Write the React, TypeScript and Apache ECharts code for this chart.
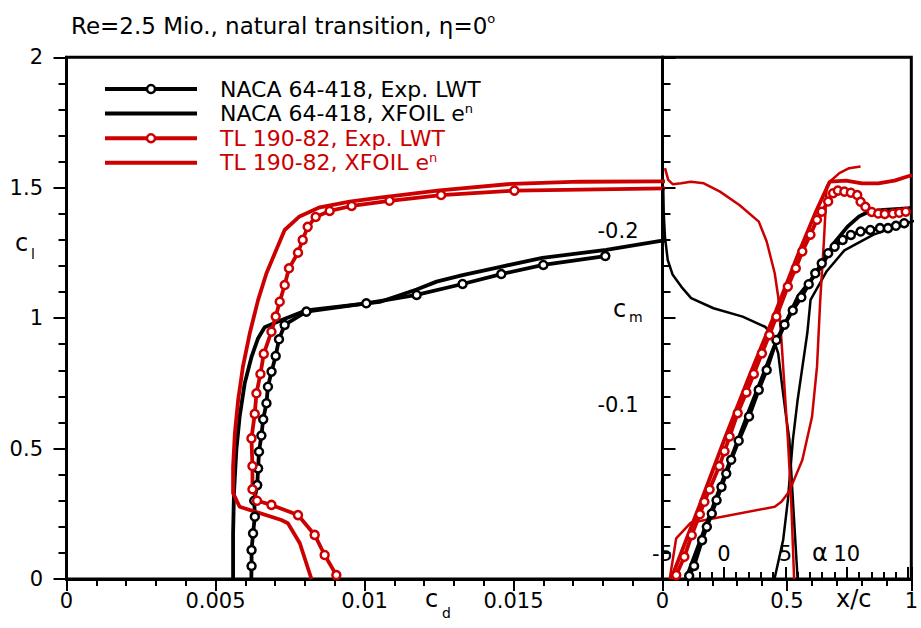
import React, { useEffect, useRef } from 'react';
import * as echarts from 'echarts';

const FONT = '"DejaVu Sans", Verdana, sans-serif';
const RED = '#cc0000';
const BLACK = '#000000';

// ---- tick labels ----
const cdTickLabels = [0, 0.005, 0.01, 0.015];
const clTickLabels = [0, 0.5, 1, 1.5, 2];
const xcTickLabels = [0, 0.5, 1];
const alphaTickLabels = [-5, 0, 5, 10];
const cmTickLabels = [-0.2, -0.1];

const titleText = 'Re=2.5 Mio., natural transition, η=0{sup|o}';
const legendNames = ['NACA 64-418, Exp. LWT', 'NACA 64-418, XFOIL e^n', 'TL 190-82, Exp. LWT', 'TL 190-82, XFOIL e^n'];
const legendColors = [BLACK, BLACK, RED, RED];
const legendMarkers = [true, false, true, false];

// ---- drag polars [cd, cl] ----
const nacaExpPolar = [
  [0.0062, -0.01], [0.00621, 0.05], [0.00621, 0.111], [0.00626, 0.175], [0.00632, 0.239], [0.0063, 0.3],
  [0.0064, 0.36], [0.00643, 0.424], [0.00646, 0.488], [0.00654, 0.55], [0.0066, 0.612], [0.00671, 0.674],
  [0.00676, 0.737], [0.00688, 0.795], [0.00702, 0.855], [0.00713, 0.919], [0.00732, 0.974], [0.00805, 1.025],
  [0.01006, 1.057], [0.01175, 1.089], [0.01329, 1.131], [0.01459, 1.169], [0.016, 1.204], [0.01808, 1.238],
];
const nacaXfoilPolar = [
  [0.00559, 0], [0.00559, 0.175], [0.00562, 0.33], [0.0057, 0.495], [0.00581, 0.622], [0.00598, 0.75],
  [0.00621, 0.852], [0.00643, 0.923], [0.00665, 0.965], [0.00716, 0.99], [0.00805, 1.03], [0.01051, 1.062],
  [0.01175, 1.11], [0.01242, 1.14], [0.01329, 1.165], [0.01453, 1.196], [0.01597, 1.231], [0.01811, 1.262],
  [0.01989, 1.295], [0.021, 1.31],
];
const tlExpPolar = [
  [0.009055, 0.015], [0.008663, 0.092], [0.008328, 0.169], [0.007768, 0.245], [0.006877, 0.284], [0.006394, 0.3],
  [0.00624, 0.344], [0.00624, 0.433], [0.006206, 0.539], [0.006317, 0.633], [0.006374, 0.712], [0.006508, 0.786],
  [0.006619, 0.863], [0.006877, 0.948], [0.00702, 1.006], [0.007155, 1.063], [0.007322, 1.127], [0.007466, 1.191],
  [0.007768, 1.251], [0.007926, 1.3], [0.008093, 1.35], [0.008361, 1.388], [0.00883, 1.411], [0.009568, 1.43],
  [0.01084, 1.45], [0.01257, 1.472], [0.01503, 1.489], [0.0215, 1.5],
];
const tlXfoilPolar = [
  [0.00822, 0], [0.00783, 0.137], [0.00743, 0.214], [0.00721, 0.226], [0.00581, 0.277], [0.00559, 0.329],
  [0.00559, 0.43], [0.00565, 0.559], [0.00576, 0.686], [0.00592, 0.814], [0.00615, 0.942], [0.00643, 1.07],
  [0.00671, 1.172], [0.00704, 1.262], [0.00732, 1.338], [0.00782, 1.39], [0.0085, 1.425], [0.0095, 1.447],
  [0.01051, 1.462], [0.01252, 1.49], [0.01496, 1.515], [0.01721, 1.523], [0.01989, 1.524], [0.021, 1.524],
];

// ---- lift curves [alpha, cl] ----
const nacaExpLift = [
  [-2.83, 0.012], [-2.43, 0.05], [-1.78, 0.149], [-1.39, 0.2], [-0.99, 0.251], [-0.6, 0.302], [-0.2, 0.353],
  [0.19, 0.404], [0.59, 0.457], [1.2, 0.53], [2.04, 0.623], [2.83, 0.725], [3.48, 0.801], [4.27, 0.916],
  [4.93, 0.975], [5.6, 1.03], [6.3, 1.08], [6.9, 1.13], [7.43, 1.172], [7.96, 1.21], [8.48, 1.249], [9.01, 1.274],
  [9.66, 1.3], [10.33, 1.319], [11.12, 1.332], [11.91, 1.338], [12.7, 1.345], [13.35, 1.345], [14.0, 1.354], [14.67, 1.364],
];
const nacaXfoilLift = [
  [-3.09, 0], [0, 0.39], [2, 0.64], [4, 0.88], [6, 1.08], [7.96, 1.2], [9, 1.29], [10.06, 1.351], [11, 1.39],
  [11.77, 1.408], [13, 1.415], [14.93, 1.421], [15.3, 1.423],
];
const tlExpLift = [
  [-3.88, 0.015], [-3.22, 0.085], [-2.62, 0.168], [-1.96, 0.248], [-1.59, 0.296], [-1.17, 0.343], [-0.38, 0.433],
  [0.05, 0.49], [0.46, 0.546], [1.12, 0.636], [1.83, 0.715], [2.43, 0.786], [3.09, 0.865], [3.7, 0.935], [4.27, 1.006],
  [5.2, 1.121], [5.85, 1.191], [6.38, 1.256], [7.04, 1.32], [7.57, 1.377], [7.96, 1.408], [8.48, 1.447], [8.88, 1.479],
  [9.27, 1.489], [9.8, 1.485], [10.33, 1.481], [10.85, 1.472], [11.12, 1.446], [11.51, 1.427], [12.03, 1.407],
  [12.56, 1.401], [13.09, 1.399], [13.75, 1.401], [14.27, 1.404], [14.8, 1.408],
];
const tlXfoilLift = [
  [-4.3, 0], [-2, 0.28], [0, 0.53], [2, 0.77], [4, 1.0], [6, 1.24], [7.5, 1.41], [8.61, 1.523], [9.93, 1.527],
  [11.24, 1.517], [12.56, 1.517], [13.88, 1.527], [14.93, 1.543], [15.3, 1.548],
];

// ---- transition locations [x/c, cl] ----
const nacaUpperTransition = [
  [0.003, 1.5], [0.005, 1.4], [0.01, 1.311], [0.021, 1.223], [0.041, 1.166], [0.076, 1.12], [0.115, 1.077],
  [0.205, 1.038], [0.322, 1.006], [0.412, 0.967], [0.439, 0.942], [0.465, 0.865], [0.478, 0.763], [0.497, 0.621],
  [0.51, 0.533], [0.524, 0.303], [0.543, 0],
];
const nacaLowerTransition = [
  [0.45, 0], [0.485, 0.15], [0.504, 0.303], [0.524, 0.533], [0.543, 0.686], [0.582, 0.943], [0.595, 1.07],
  [0.66, 1.18], [0.731, 1.26], [0.848, 1.32], [0.984, 1.365], [1.02, 1.375],
];
const tlUpperTransition = [
  [0.01, 1.575], [0.023, 1.53], [0.042, 1.513], [0.075, 1.517], [0.114, 1.523], [0.166, 1.517], [0.231, 1.485],
  [0.309, 1.434], [0.387, 1.37], [0.419, 1.293], [0.451, 1.172], [0.465, 1.082], [0.478, 0.916], [0.504, 0.533],
  [0.517, 0.303], [0.529, 0],
];
const tlLowerTransition = [
  [0.029, 0], [0.055, 0.156], [0.114, 0.216], [0.451, 0.277], [0.478, 0.296], [0.509, 0.335], [0.562, 0.456],
  [0.601, 0.622], [0.621, 0.814], [0.634, 1.07], [0.649, 1.3], [0.66, 1.504], [0.672, 1.523], [0.711, 1.556],
  [0.75, 1.575], [0.796, 1.581],
];

function pick(labels: number[]) {
  return (v: number) => {
    const hit = labels.find((t) => Math.abs(t - v) < 1e-9);
    return hit === undefined ? '' : String(hit);
  };
}

function curve(name: string, data: number[][], xi: number, yi: number, color: string, width: number, marker: boolean) {
  return {
    name,
    type: 'line',
    data,
    xAxisIndex: xi,
    yAxisIndex: yi,
    clip: true,
    symbol: marker ? 'circle' : 'none',
    symbolSize: 8,
    showSymbol: marker,
    lineStyle: { color, width },
    itemStyle: marker ? { color: '#ffffff', borderColor: color, borderWidth: 2.5 } : { color },
    emphasis: { disabled: true },
  };
}

const tickLine = { color: '#000', width: 2 };
const axisLine = { show: true, lineStyle: { color: '#000', width: 3 } };
const labelFont = { fontFamily: FONT, fontSize: 21, color: '#000' };

function subTitle(main: string, sub: string, x: number, y: number, subDx: number, subDy: number) {
  return {
    type: 'group',
    children: [
      { type: 'text', x, y, style: { text: main, font: `24px ${FONT}`, fill: '#000', verticalAlign: 'middle', align: 'left' } },
      { type: 'text', x: x + subDx, y: y + subDy, style: { text: sub, font: `14px ${FONT}`, fill: '#000', verticalAlign: 'middle', align: 'left' } },
    ],
  };
}

export default function App() {
  const ref = useRef<HTMLDivElement>(null);
  useEffect(() => {
    if (!ref.current) return;
    const chart = echarts.init(ref.current, undefined, { renderer: 'svg' });
    const option: any = {
      animation: false,
      backgroundColor: '#ffffff',
      title: {
        text: titleText,
        left: 66,
        top: 7,
        textStyle: {
          fontFamily: FONT, fontSize: 23, fontWeight: 'normal', color: '#000', lineHeight: 28,
          rich: { sup: { fontFamily: FONT, fontSize: 13, lineHeight: 14, verticalAlign: 'top', color: '#000' } },
        },
      },
      legend: {
        orient: 'vertical',
        left: 103,
        top: 77,
        padding: 0,
        itemWidth: 92,
        itemHeight: 10,
        itemGap: 0.6,
        selectedMode: false,
        lineStyle: { width: 4 },
        data: legendNames.map((n, i) => ({
          name: n,
          textStyle: { color: legendColors[i] },
          itemStyle: legendMarkers[i]
            ? { color: '#ffffff', borderColor: legendColors[i], borderWidth: 2.5 }
            : { color: 'rgba(0,0,0,0)', borderColor: 'rgba(0,0,0,0)', borderWidth: 0, opacity: 0 },
        })),
        formatter: (name: string) => name.replace('e^n', 'e{sup|n}'),
        textStyle: {
          fontFamily: FONT, fontSize: 22, lineHeight: 24, padding: [0, 0, 0, 18],
          rich: { sup: { fontFamily: FONT, fontSize: 13, lineHeight: 12, verticalAlign: 'top' } },
        },
      },
      grid: [
        { left: 66.5, top: 57.3, width: 596, height: 521.7, show: true, borderColor: '#000', borderWidth: 3, backgroundColor: 'transparent' },
        { left: 662.5, top: 57.3, width: 256.5, height: 521.7, show: true, borderColor: '#000', borderWidth: 3, backgroundColor: 'transparent' },
      ],
      xAxis: [
        {
          gridIndex: 0, type: 'value', min: 0, max: 0.02, interval: 0.005, position: 'bottom',
          axisLine, splitLine: { show: false },
          axisTick: { show: true, inside: false, length: 12, lineStyle: tickLine },
          minorTick: { show: true, splitNumber: 5, length: 7, lineStyle: tickLine },
          axisLabel: { ...labelFont, margin: 11, formatter: pick(cdTickLabels) },
        },
        {
          gridIndex: 1, type: 'value', min: 0, max: 1, interval: 0.5, position: 'bottom',
          axisLine, splitLine: { show: false },
          axisTick: { show: true, inside: false, length: 12, lineStyle: tickLine },
          minorTick: { show: true, splitNumber: 5, length: 7, lineStyle: tickLine },
          axisLabel: { ...labelFont, margin: 11, formatter: pick(xcTickLabels) },
        },
        {
          gridIndex: 1, type: 'value', min: -5, max: 15.25, interval: 5, position: 'bottom',
          axisLine, splitLine: { show: false },
          axisTick: { show: true, inside: true, length: 12, lineStyle: tickLine },
          minorTick: { show: true, splitNumber: 5, length: 7, lineStyle: tickLine },
          axisLabel: { ...labelFont, inside: true, margin: 15, formatter: pick(alphaTickLabels) },
        },
      ],
      yAxis: [
        {
          gridIndex: 0, type: 'value', min: 0, max: 2, interval: 0.5, position: 'left',
          axisLine, splitLine: { show: false },
          axisTick: { show: true, inside: false, length: 13, lineStyle: tickLine },
          minorTick: { show: true, splitNumber: 5, length: 8, lineStyle: tickLine },
          axisLabel: { ...labelFont, margin: 23.5, formatter: pick(clTickLabels) },
        },
        {
          gridIndex: 1, type: 'value', min: 0, max: 2, interval: 0.5, position: 'left',
          axisLine, splitLine: { show: false },
          axisTick: { show: true, inside: true, length: 13, lineStyle: tickLine },
          minorTick: { show: true, splitNumber: 5, length: 8, lineStyle: tickLine },
          axisLabel: { show: false },
        },
        {
          gridIndex: 1, type: 'value', min: -0.3, max: 0, interval: 0.1, inverse: true, position: 'left',
          axisLine: { show: false }, splitLine: { show: false }, axisTick: { show: false },
          axisLabel: { ...labelFont, margin: 24, formatter: pick(cmTickLabels) },
        },
      ],
      graphic: [
        subTitle('c', 'l', 15, 243, 16, 11),
        subTitle('c', 'm', 613, 309, 16, 8),
        subTitle('c', 'd', 425, 599, 17, 14),
        { type: 'text', x: 836, y: 599, style: { text: 'x/c', font: `24px ${FONT}`, fill: '#000', verticalAlign: 'middle', align: 'left' } },
        { type: 'text', x: 812, y: 553, style: { text: 'α', font: `24px ${FONT}`, fill: '#000', verticalAlign: 'middle', align: 'left' } },
      ],
      series: [
        curve(legendNames[0], nacaExpPolar, 0, 0, BLACK, 3.8, true),
        curve(legendNames[1], nacaXfoilPolar, 0, 0, BLACK, 3.8, false),
        curve(legendNames[2], tlExpPolar, 0, 0, RED, 3.8, true),
        curve(legendNames[3], tlXfoilPolar, 0, 0, RED, 3.8, false),
        curve(legendNames[1], nacaUpperTransition, 1, 1, BLACK, 2.5, false),
        curve(legendNames[1], nacaLowerTransition, 1, 1, BLACK, 2.5, false),
        curve(legendNames[3], tlUpperTransition, 1, 1, RED, 2.5, false),
        curve(legendNames[3], tlLowerTransition, 1, 1, RED, 2.5, false),
        curve(legendNames[1], nacaXfoilLift, 2, 1, BLACK, 3.8, false),
        curve(legendNames[3], tlXfoilLift, 2, 1, RED, 3.8, false),
        curve(legendNames[0], nacaExpLift, 2, 1, BLACK, 3.8, true),
        curve(legendNames[2], tlExpLift, 2, 1, RED, 3.8, true),
      ],
    };
    chart.setOption(option);
    return () => chart.dispose();
  }, []);
  return <div ref={ref} style={{ position: 'absolute', left: 0, top: 0, width: 921, height: 628 }} />;
}
